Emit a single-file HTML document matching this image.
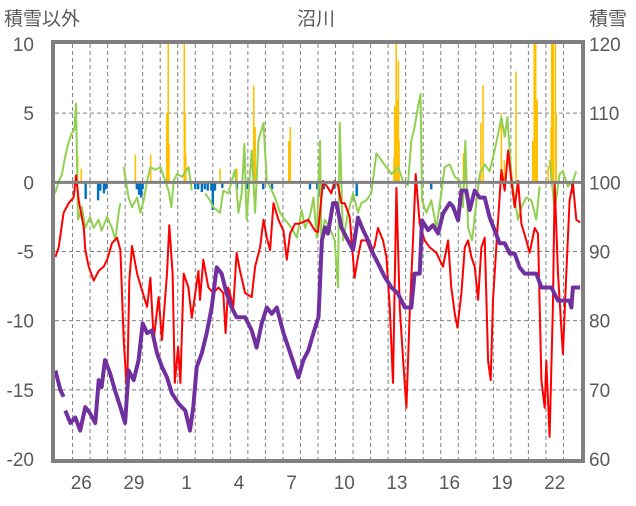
<!DOCTYPE html>
<html><head><meta charset="utf-8"><style>
body{margin:0;background:#fff;}
svg text{font-family:"Liberation Sans","Noto Sans CJK JP",sans-serif;fill:#595959;}
</style></head><body>
<svg id="chart" width="636" height="501" viewBox="0 0 636 501" xmlns="http://www.w3.org/2000/svg">
<text x="4" y="25" font-size="19">積雪以外</text>
<text x="316" y="25" font-size="19" text-anchor="middle">沼川</text>
<text x="589" y="25" font-size="19">積雪</text>
<g id="grid"></g>
<g id="bars"></g>
<g id="lines"></g>
<g id="axes"></g>
</svg>
<script>
const xTickLabels=["26","29","1","4","7","10","13","16","19","22"];
const xTickDays=[1,4,7,10,13,16,19,22,25,28];
const leftTicks=[10,5,0,-5,-10,-15,-20];
const rightTicks=[120,110,100,90,80,70,60];
const redT=[0.02,0.21,0.49,0.78,1.06,1.2,1.35,1.64,1.73,1.92,2.21,2.49,2.78,2.97,3.25,3.54,3.73,3.92,4.11,4.24,4.39,4.68,4.96,5.25,5.44,5.63,5.91,6.1,6.39,6.52,6.71,6.83,7.02,7.15,7.34,7.61,7.8,8.0,8.18,8.27,8.46,8.75,9.03,9.32,9.6,9.73,9.88,10.17,10.36,10.55,10.84,11.22,11.41,11.7,11.89,12.08,12.27,12.46,12.74,13.03,13.22,13.41,13.69,13.93,14.45,14.83,15.0,15.29,15.57,15.76,15.95,16.14,16.33,16.52,16.81,17.09,17.28,17.47,17.76,18.04,18.23,18.42,18.71,18.9,19.09,19.28,19.47,19.66,19.85,20.04,20.23,20.42,20.57,20.8,21.08,21.37,21.75,22.13,22.42,22.6,22.8,22.95,23.18,23.37,23.56,23.75,23.94,24.13,24.32,24.51,24.7,24.85,24.98,25.17,25.46,25.65,25.84,26.03,26.22,26.41,26.6,26.88,27.07,27.36,27.55,27.74,27.93,28.02,28.21,28.4,28.5,28.69,28.97,29.16,29.35,29.54,29.73,29.95];
const redV=[-5.4,-4.7,-2.2,-1.5,-1.1,0.5,-1.3,-3.3,-4.9,-6.1,-7.1,-6.4,-6.1,-5.6,-4.4,-4.0,-4.9,-11.4,-15.3,-7.1,-4.6,-6.6,-7.8,-9.0,-6.9,-11.4,-8.3,-11.4,-6.6,-3.1,-6.6,-14.5,-11.9,-14.5,-6.6,-7.6,-9.8,-8.0,-6.4,-8.5,-5.6,-7.6,-8.0,-7.6,-8.0,-10.9,-7.6,-9.0,-5.1,-6.4,-8.0,-8.3,-6.1,-4.7,-2.7,-4.0,-4.9,-1.5,-2.7,-3.5,-5.6,-3.7,-3.0,-3.0,-2.7,-3.5,-3.6,0.1,-0.4,-0.8,0.1,-0.2,-1.5,-1.5,-2.5,-6.9,-5.4,-4.2,-4.2,-5.1,-4.6,-3.3,-4.2,-5.4,-9.0,-14.5,-0.4,-9.0,-12.7,-16.3,-9.5,-4.2,0.6,-3.0,-4.2,-4.7,-5.1,-6.1,-4.2,-7.6,-9.5,-10.5,-8.0,-4.7,-4.2,-5.4,-6.1,-8.5,-4.7,-4.0,-12.9,-14.3,-8.5,-4.7,0.9,-0.6,2.3,0.1,-1.8,0.1,-3.0,-4.2,-5.1,-3.3,-3.7,-14.3,-16.3,-12.9,-18.4,-9.0,-0.1,-6.6,-12.4,-6.6,-1.3,-0.1,-2.7,-2.9];
const greenT=[0.0,0.2,0.4,0.57,0.75,0.93,1.1,1.2,1.31,1.54,1.73,2.0,2.21,2.49,2.66,2.97,3.25,3.44,3.63,3.73,null,3.92,4.2,4.39,4.68,4.87,5.06,5.25,5.44,5.72,6.01,6.29,6.48,6.64,6.77,6.96,7.25,7.62,7.8,null,8.56,8.84,9.03,9.41,9.6,9.88,10.27,10.46,10.65,10.8,10.93,11.22,11.41,11.6,11.89,12.08,12.36,12.55,12.84,13.12,13.5,13.79,14.07,14.26,14.55,14.74,14.93,15.12,15.19,15.38,15.67,15.95,16.14,16.24,16.43,16.71,17.0,17.28,17.47,17.76,18.04,18.33,18.61,18.9,19.19,19.57,19.85,20.13,20.32,20.51,20.7,20.85,20.93,21.18,21.46,21.75,22.03,22.22,22.51,22.8,23.08,23.27,23.4,23.56,23.79,24.03,24.22,24.51,24.79,25.07,25.27,25.46,25.65,25.8,26.03,26.22,26.41,26.6,26.88,27.17,27.45,27.64,null,28.21,28.5,28.78,28.97,29.26,29.54,29.73];
const greenV=[-0.8,0.0,0.6,1.8,2.8,3.5,3.8,5.7,-2.7,-1.8,-3.3,-2.5,-3.3,-2.7,-3.5,-2.5,-3.3,-4.2,-2.2,-1.5,null,1.1,-1.1,-1.8,-1.1,-2.2,-1.3,0.1,1.1,0.9,1.1,0.1,-0.6,-1.8,0.1,0.6,0.4,1.1,-0.6,null,-0.8,-1.3,-1.8,-2.2,-0.6,-0.8,0.9,-2.2,-0.8,2.8,-2.7,2.3,-2.2,3.0,4.3,0.1,-0.6,-1.1,-2.2,-2.7,-3.3,-4.0,-2.0,-3.3,-2.4,-1.1,-4.0,3.0,-4.2,-2.7,-3.3,-4.2,-7.6,4.3,-4.2,-2.2,-0.8,-2.2,-1.5,-1.3,-0.8,2.1,1.6,1.1,0.6,1.1,0.1,-0.2,3.0,4.0,5.4,6.4,-1.3,-2.2,-1.3,-3.3,-0.8,1.1,1.3,0.4,0.1,-1.8,3.0,-3.3,-4.2,-1.5,0.6,1.3,0.8,2.3,3.5,4.7,3.3,4.7,0.6,-1.3,-2.7,-1.8,-1.1,-1.3,-2.7,-0.3,null,1.6,-2.0,0.6,0.8,-0.3,0.1,0.8];
const snowT=[0.02,0.3,0.49,null,0.59,0.88,1.16,1.44,1.73,2.0,2.3,2.49,2.66,2.85,3.14,3.42,3.73,4.0,4.2,4.49,4.77,5.0,5.25,5.53,5.82,6.1,6.39,6.67,7.05,7.43,7.7,7.89,8.08,8.37,8.65,8.94,9.22,9.5,9.79,10.08,10.36,10.84,11.22,11.5,11.79,12.08,12.36,12.65,13.03,13.5,13.88,14.17,14.45,14.74,15.03,15.22,15.41,15.57,15.86,16.05,16.33,16.71,17.0,17.28,17.57,17.86,18.14,18.42,18.81,19.19,19.57,19.95,20.32,20.51,20.8,20.93,21.28,21.56,21.85,22.13,22.51,22.7,22.99,23.18,23.46,23.65,23.94,24.22,24.51,24.79,25.07,25.36,25.65,25.94,26.22,26.5,26.79,27.45,27.74,28.31,28.69,29.35,29.45,29.54,29.95];
const snowV=[72.8,70.0,69.0,null,67.0,65.2,66.0,64.1,67.5,66.6,65.2,71.4,70.4,74.3,72.4,69.9,67.5,65.2,72.8,71.4,74.3,79.6,78.2,78.6,75.3,73.3,71.8,69.5,68.0,67.0,64.1,67.5,73.3,75.3,78.2,81.9,87.7,86.8,83.9,81.9,80.5,80.5,78.6,76.1,79.6,81.9,81.0,81.9,78.2,74.7,71.8,74.3,75.7,78.2,80.5,91.6,93.5,92.6,97.0,97.0,93.5,91.6,90.2,94.9,93.1,91.6,89.7,88.3,86.3,84.8,83.9,81.9,81.9,86.8,86.8,94.5,93.1,93.8,92.6,95.5,97.0,96.5,94.5,98.8,98.8,96.0,98.8,97.8,97.8,94.9,93.1,91.2,91.2,89.7,89.7,87.7,86.8,86.8,84.8,84.8,82.9,82.9,81.9,84.8,84.8];
const precipHour=[31,36,110,131,153,155,156,177,178,179,226,249,272,274,320,322,464,465,467,468,470,471,559,561,583,586,611,615,631,654,656,657,658,660,675,679,680,682,685,686];
const precipVal=[2.0,1.0,2.0,2.0,5.0,10,2.8,10,5.0,2.0,1.0,1.0,7.0,4.0,3.0,4.0,1.8,5.5,10,6.0,8.8,3.0,2.1,2.1,4.3,7.0,5.0,1.6,8.0,3.0,10,10,10,6.0,1.2,4.0,10,10,10,5.0];
const negHour=[42,59,62,67,70,112,115,118,120,192,196,201,205,209,214,216,219,229,249,263,285,297,349,359,363,368,382,413,515,708];
const negVal=[-1.2,-1.3,-0.6,-0.8,-0.5,-0.5,-0.9,-1.1,-0.5,-0.5,-0.5,-0.7,-0.5,-0.6,-0.6,-2.0,-0.6,-0.4,-0.5,-0.5,-0.5,-0.5,-0.5,-0.5,-1.0,-0.5,-0.5,-1.0,-0.5,-0.8];

const X0=55,X1=581,Y0=44,Y1=459,NDAYS=30;
const xs=t=>X0+t*(X1-X0)/NDAYS;
const yL=v=>Y1-(v+20)*(Y1-Y0)/30;
const yR=v=>Y1-(v-60)*(Y1-Y0)/60;
const NS="http://www.w3.org/2000/svg";
function mk(tag,parent,attrs){const e=document.createElementNS(NS,tag);for(const k in attrs)e.setAttribute(k,attrs[k]);parent.appendChild(e);return e;}
const grid=document.getElementById('grid'),bars=document.getElementById('bars'),lines=document.getElementById('lines'),axes=document.getElementById('axes');
for(let d=1;d<NDAYS;d++){const l=mk('line',grid,{x1:xs(d),x2:xs(d),y1:Y0,y2:Y1,stroke:'#808080','stroke-width':1,'stroke-dasharray':'4,3'});

}
leftTicks.forEach((v,i)=>{
 if(v!==10&&v!==-20&&v!==0){const l=mk('line',grid,{x1:X0,x2:X1,y1:yL(v),y2:yL(v),stroke:'#808080','stroke-width':1,'stroke-dasharray':'4,3'});
 
 }
 const t=mk('text',axes,{x:34,y:yL(v)+7,'font-size':19,'text-anchor':'end'});t.textContent=v;
 
 
});
rightTicks.forEach(v=>{const t=mk('text',axes,{x:589,y:yR(v)+7,'font-size':19});t.textContent=v;
 
 });
xTickLabels.forEach((s,i)=>{const t=mk('text',axes,{x:xs(xTickDays[i]+0.5),y:489,'font-size':19,'text-anchor':'middle'});t.textContent=s;
 
 });
const bw=1.6;
precipHour.forEach((h,i)=>{const x=xs(h/24),y=yL(precipVal[i]);const r=mk('rect',bars,{x:x-bw/2,y:y,width:bw,height:yL(0)-y,fill:'#ffc000'});
 
 });
negHour.forEach((h,i)=>{const x=xs(h/24);const r=mk('rect',bars,{x:x-1.2,y:yL(0),width:2.4,height:yL(negVal[i])-yL(0),fill:'#0070c0'});
 
 });
function pathOf(T,V,yf){let d='',pen=false;for(let i=0;i<T.length;i++){if(T[i]===null||V[i]===null){pen=false;continue;}d+=(pen?'L':'M')+xs(T[i]).toFixed(1)+','+yf(V[i]).toFixed(1);pen=true;}return d;}
const g=mk('path',lines,{d:pathOf(greenT,greenV,yL),fill:'none',stroke:'#92d050','stroke-width':2,'stroke-linejoin':'round'});


const r=mk('path',lines,{d:pathOf(redT,redV,yL),fill:'none',stroke:'#ff0000','stroke-width':2,'stroke-linejoin':'round'});


const p=mk('path',lines,{d:pathOf(snowT,snowV,yR),fill:'none',stroke:'#7030a0','stroke-width':4,'stroke-linejoin':'round'});


const z=mk('line',axes,{x1:X0,x2:X1,y1:yL(0),y2:yL(0),stroke:'#808080','stroke-width':3});


const f=mk('rect',axes,{x:X0-2,y:Y0-2,width:X1-X0+4,height:Y1-Y0+4,fill:'none',stroke:'#808080','stroke-width':4});


</script>
</body></html>
